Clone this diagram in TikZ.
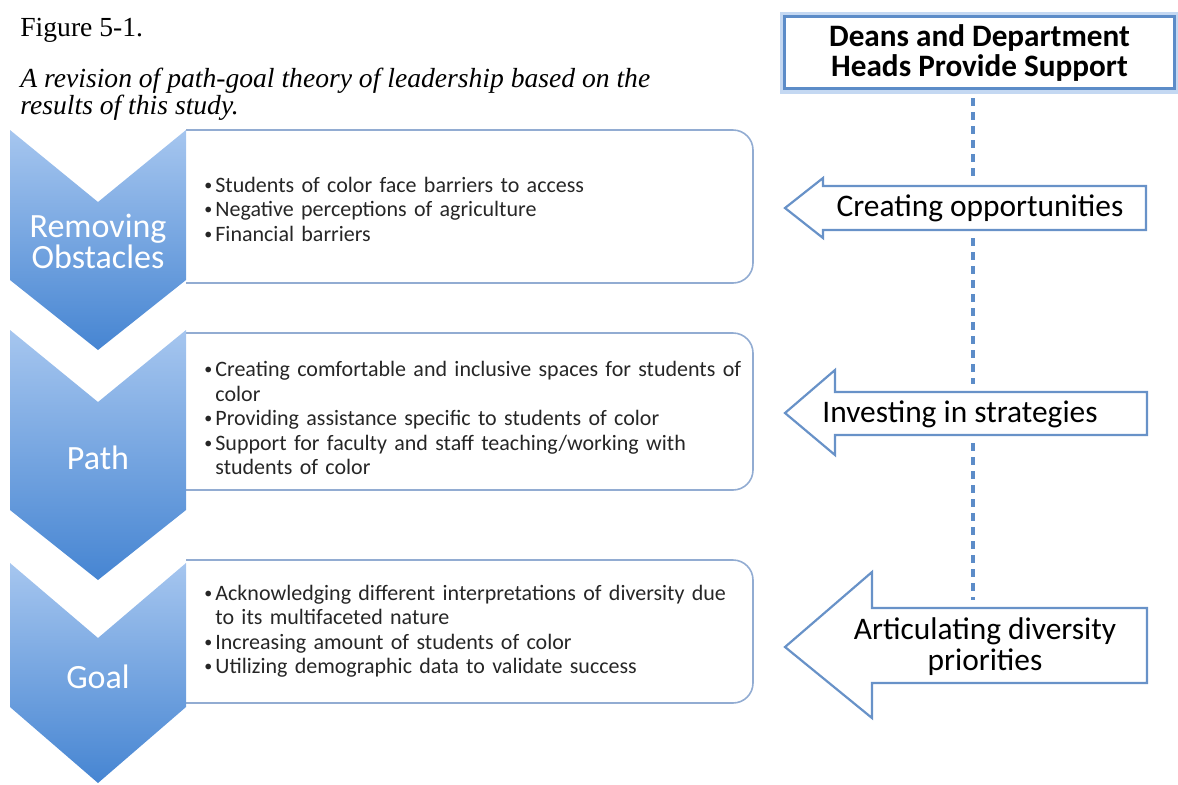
\documentclass[tikz,border=0pt]{standalone}
\usepackage{fontspec}
\setmainfont{Carlito}
\newfontfamily\titlefont{Liberation Serif}
\definecolor{chevtop}{RGB}{166,198,239}
\definecolor{chevbot}{RGB}{70,133,210}
\definecolor{frameblue}{RGB}{146,172,210}
\definecolor{arrowblue}{RGB}{104,146,200}
\definecolor{dashblue}{RGB}{92,140,200}
\definecolor{glowblue}{RGB}{196,216,242}
\definecolor{bullettext}{RGB}{38,38,38}
\newcommand{\bitem}[1]{\noindent\hangindent=5.5pt\hangafter=1\makebox[5.5pt][l]{\raisebox{0.9pt}{\fontsize{8}{8}\selectfont\textbullet}}#1\par}

\begin{document}
\begin{tikzpicture}[x=0.5pt, y=-0.5pt,
    chevron/.style={shading=axis, top color=chevtop, bottom color=chevbot, draw=none},
    chevlabel/.style={text=white, align=center, font=\fontsize{17}{15.5}\selectfont},
    itembox/.style={draw=frameblue, line width=0.8pt, rounded corners=10pt},
    items/.style={anchor=west, inner sep=0pt, text width=290pt, text=bullettext, font=\fontsize{11}{12.25}\selectfont},
    supportbox/.style={draw=dashblue, line width=1.5pt, fill=white, minimum width=195pt, minimum height=36pt,
        align=center, font=\bfseries\fontsize{15.6}{15}\selectfont, preaction={draw=glowblue, line width=5pt}},
    blockarrow/.style={draw=arrowblue, line width=1.1pt, fill=white},
    arrowlabel/.style={align=center, font=\fontsize{15.7}{15.5}\selectfont},
    spine/.style={draw=dashblue, line width=1.6pt, dash pattern=on 4pt off 3pt, shorten <=4pt, shorten >=4pt}]
        \useasboundingbox (0,0) rectangle (1178,784);

        % caption
        \node[anchor=base west, inner sep=0pt, font=\titlefont\fontsize{13.8}{15}\selectfont] (fignum) at (20,36) {Figure 5-1.};
        \node[anchor=base west, inner sep=0pt, font=\titlefont\itshape\fontsize{13.8}{15}\selectfont] (figtitle) at (20,87) {A revision of path-goal theory of leadership based on the};
        \node[anchor=base west, inner sep=0pt, font=\titlefont\itshape\fontsize{13.8}{15}\selectfont] (figtitleb) at (20,114) {results of this study.};

        % boxes
        \draw[itembox] (186,130) -- (753,130) -- (753,283) -- (186,283);
        \draw[itembox] (186,333) -- (753,333) -- (753,490) -- (186,490);
        \draw[itembox] (186,560) -- (753,560) -- (753,703) -- (186,703);

        % chevrons
        \draw[chevron] (10,130) -- (98,202) -- (186,130) -- (186,280) -- (98,350) -- (10,280) -- cycle;
        \draw[chevron] (10,330) -- (98,402) -- (186,330) -- (186,510) -- (98,580) -- (10,510) -- cycle;
        \draw[chevron] (10,563) -- (98,638) -- (186,563) -- (186,707) -- (98,783) -- (10,707) -- cycle;

        \node[chevlabel] (obstacles) at (98,241) {Removing\\Obstacles};
        \node[chevlabel] (path) at (98,458) {Path};
        \node[chevlabel] (goal) at (98,677) {Goal};

        % bullet lists
        \node[items] (obstacleitems) at (204,209) {%
            \bitem{Students of color face barriers to access}
            \bitem{Negative perceptions of agriculture}
            \bitem{Financial barriers}};
        \node[items] (pathitems) at (204,418) {%
            \bitem{Creating comfortable and inclusive spaces for students of\newline color}
            \bitem{Providing assistance specific to students of color}
            \bitem{Support for faculty and staff teaching/working with\newline students of color}};
        \node[items] (goalitems) at (204,631) {%
            \bitem{Acknowledging different interpretations of diversity due\newline to its multifaceted nature}
            \bitem{Increasing amount of students of color}
            \bitem{Utilizing demographic data to validate success}};

        % support and arrows
        \node[supportbox] (support) at (979.5,52.5) {Deans and Department\\Heads Provide Support};

        \draw[blockarrow] (785,208) -- (823,178) -- (823,186) -- (1146,186) -- (1146,230) -- (823,230) -- (823,238) -- cycle;
        \draw[blockarrow] (785,413) -- (835,370) -- (835,392) -- (1147,392) -- (1147,435) -- (835,435) -- (835,455) -- cycle;
        \draw[blockarrow] (785,647) -- (872,572) -- (872,608) -- (1147,608) -- (1147,683) -- (872,683) -- (872,718) -- cycle;

        \node[arrowlabel] (opportunities) at (980,208) {Creating opportunities};
        \node[arrowlabel] (strategies) at (960,414) {Investing in strategies};
        \node[arrowlabel] (priorities) at (985,647) {Articulating diversity\\priorities};

        % dashed spine
        \coordinate (oppin) at (973,186);
        \coordinate (oppout) at (973,230);
        \coordinate (strin) at (973,392);
        \coordinate (strout) at (973,435);
        \coordinate (priin) at (973,608);
        \draw[spine] (support.south -| oppin) -- (oppin);
        \draw[spine] (oppout) -- (strin);
        \draw[spine] (strout) -- (priin);

    \end{tikzpicture}
\end{document}
